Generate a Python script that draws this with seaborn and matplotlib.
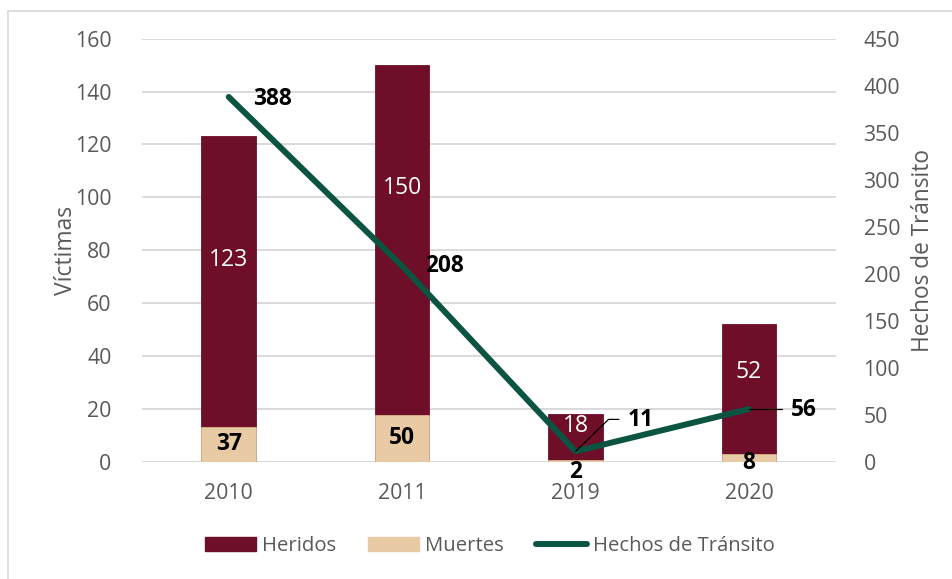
import numpy as np
import pandas as pd
import matplotlib
matplotlib.use("Agg")
import matplotlib.pyplot as plt
from matplotlib.patches import Patch
from matplotlib.lines import Line2D
import seaborn as sns

# Data
years = ["2010", "2011", "2019", "2020"]
heridos = [123, 150, 18, 52]
muertes = [37, 50, 2, 8]
hechos = [388, 208, 11, 56]

left_ticks = [0, 20, 40, 60, 80, 100, 120, 140, 160]
right_ticks = [0, 50, 100, 150, 200, 250, 300, 350, 400, 450]

MAROON = "#6E0E28"
BEIGE = "#E8CBA5"
GREEN = "#0B5442"
GRID = "#D9D9D9"
TXT = "#595959"

sns.set_theme(style="white")
plt.rcParams["font.family"] = ["Open Sans", "DejaVu Sans"]

df = pd.DataFrame({"year": years, "heridos": heridos,
                   "muertes": muertes, "hechos": hechos})
df["pos"] = np.arange(len(df))

fig = plt.figure(figsize=(9.53, 5.79), dpi=100)
ax = fig.add_axes([0.149, 0.2026, 0.728, 0.7306])
ax2 = ax.twinx()

# Heridos on the primary axis
sns.barplot(data=df, x="year", y="heridos", ax=ax, color=MAROON,
            width=0.315, saturation=1, edgecolor=MAROON, linewidth=0.6,
            zorder=2)
ax.set_ylim(0, 160)
ax.set_yticks(left_ticks)
ax.grid(axis="y", color=GRID, linewidth=1.4, zorder=0)
ax.set_axisbelow(True)

# Muertes and Hechos on the secondary axis
sns.barplot(data=df, x="year", y="muertes", ax=ax2, color=BEIGE,
            width=0.315, saturation=1, edgecolor="#D9B48F", linewidth=0.6)
sns.lineplot(data=df, x="pos", y="hechos", ax=ax2, color=GREEN,
             linewidth=4.3, solid_capstyle="round", zorder=4)
ax2.set_ylim(0, 450)
ax2.set_yticks(right_ticks)
ax2.grid(False)

for a in (ax, ax2):
    a.set_xlim(-0.5, len(years) - 0.5)
    for s in a.spines.values():
        s.set_visible(False)
    a.tick_params(axis="both", length=0, labelsize=15.3, colors=TXT)

ax.set_xticks(range(len(years)))
ax.set_xticklabels(years)
ax.tick_params(axis="x", pad=15)
ax.tick_params(axis="y", pad=22)
ax2.tick_params(axis="y", pad=20)
ax.set_xlabel("")
ax2.set_xlabel("")
ax.set_ylabel("Víctimas", fontsize=16.5, color=TXT, labelpad=-2)
ax2.set_ylabel("Hechos de Tránsito", fontsize=16.3, color=TXT, labelpad=8)

# Labels inside the Heridos bars
heridos_label_frac = [0.62, 0.69, 0.74, 0.65]
for i, (v, f) in enumerate(zip(heridos, heridos_label_frac)):
    ax.text(i, v * f, str(v), ha="center", va="center", color="white",
            fontsize=16.5)

# Labels for Muertes
bold = dict(fontsize=16.3, fontweight="bold", color="black")
for i, v in enumerate(muertes):
    if v >= 20:
        ax2.text(i, v / 2, str(v), ha="center", va="center", **bold)
    else:
        ax2.text(i, -10.5 if v < 5 else -1.5, str(v), ha="center",
                 va="center", **bold)

# Labels for Hechos de Tránsito
ax2.text(0.25, hechos[0] - 2, str(hechos[0]), ha="center", va="center", **bold)
ax2.text(1.245, hechos[1], str(hechos[1]), ha="center", va="center", **bold)
ax2.plot([2, 2.19, 2.25], [hechos[2], hechos[2] + 34, hechos[2] + 34],
         color="black", linewidth=0.9, zorder=5)
ax2.text(2.373, hechos[2] + 33, str(hechos[2]), ha="center", va="center", **bold)
ax2.plot([3, 3.19], [hechos[3], hechos[3]], color="black", linewidth=0.9,
         zorder=5)
ax2.text(3.313, hechos[3] - 1, str(hechos[3]), ha="center", va="center", **bold)

# Legend
handles = [Patch(facecolor=MAROON, edgecolor=MAROON, label="Heridos"),
           Patch(facecolor=BEIGE, edgecolor=BEIGE, label="Muertes"),
           Line2D([0], [0], color=GREEN, linewidth=4.3, solid_capstyle="round",
                  label="Hechos de Tránsito")]
leg = fig.legend(handles=handles, loc="center", bbox_to_anchor=(0.514, 0.057),
                 ncol=3, frameon=False, fontsize=14.6, handlelength=2.5,
                 handletextpad=0.3, columnspacing=1.6)
for t in leg.get_texts():
    t.set_color(TXT)

# Chart frame
fig.add_artist(Line2D([8.5 / 953, 1], [1 - 10.5 / 579] * 2, color=GRID,
                      linewidth=1.2, transform=fig.transFigure))
fig.add_artist(Line2D([8.5 / 953] * 2, [0, 1 - 10.5 / 579], color=GRID,
                      linewidth=1.2, transform=fig.transFigure))

fig.savefig("out.png", dpi=100, facecolor="white")
